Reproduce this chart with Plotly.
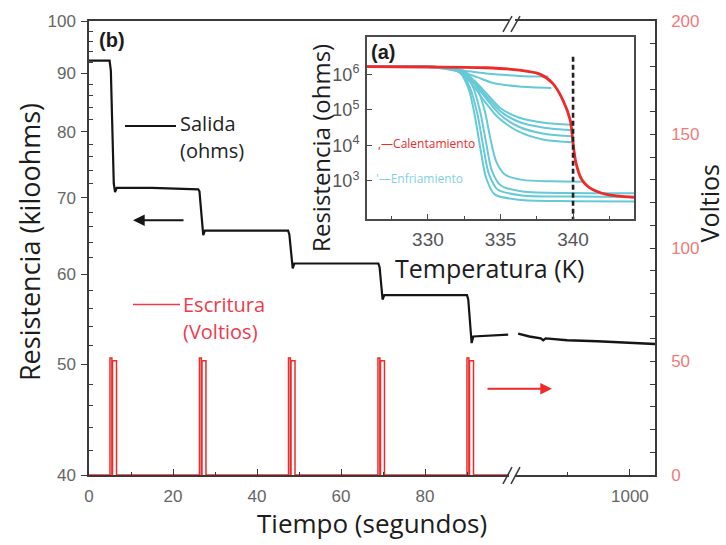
import plotly.graph_objects as go

# ---------------- data ----------------
# main panel (b): resistance in kiloohms vs time (s)
time_a = [0, 4.9, 5.2, 5.6, 5.9, 6.2, 6.6, 15, 26.0, 26.3, 26.8, 27.2, 27.6, 40, 47.4, 47.7, 48.1, 48.5, 48.9,
          60, 68.9, 69.2, 69.6, 69.9, 70.3, 80, 90.0, 90.3, 90.7, 91.1, 91.5, 95, 99.8]
res_a = [92.3, 92.3, 90.5, 78.0, 72.0, 70.8, 71.4, 71.4, 71.2, 70.9, 68.0, 64.9, 65.5, 65.5, 65.5, 65.0, 63.0, 60.7, 61.3,
         61.3, 61.3, 60.8, 58.8, 57.0, 57.5, 57.5, 57.5, 57.0, 54.5, 52.2, 52.9, 53.0, 53.1]
time_b = [822, 840, 858, 862, 866, 900, 948, 1000, 1040]
res_b = [53.2, 52.9, 52.7, 52.5, 52.7, 52.5, 52.4, 52.2, 52.1]

# write pulses (volts)
volt_t = [0,
          5.0, 5.0, 5.45, 5.45, 5.6, 5.6, 6.55, 6.55,
          26.3, 26.3, 26.75, 26.75, 26.9, 26.9, 27.85, 27.85,
          47.5, 47.5, 47.95, 47.95, 48.1, 48.1, 49.05, 49.05,
          68.8, 68.8, 69.25, 69.25, 69.4, 69.4, 70.35, 70.35,
          90.0, 90.0, 90.45, 90.45, 90.6, 90.6, 91.55, 91.55,
          100]
volt_v = [0,
          0, 51.5, 51.5, 0, 0, 50.3, 50.3, 0,
          0, 51.5, 51.5, 0, 0, 50.3, 50.3, 0,
          0, 51.5, 51.5, 0, 0, 50.3, 50.3, 0,
          0, 51.5, 51.5, 0, 0, 50.3, 50.3, 0,
          0, 51.5, 51.5, 0, 0, 50.3, 50.3, 0,
          0]

# inset (a): log10(resistance / ohm) vs temperature (K)
heat_T = [325.8, 330, 334, 336.3, 337.7, 338.6, 339.3, 339.8, 340.0, 340.2, 340.6, 341.1, 342.3, 344.2]
heat_logR = [6.22, 6.21, 6.19, 6.12, 6.01, 5.75, 5.28, 4.72, 4.07, 3.51, 3.04, 2.82, 2.62, 2.54]

cool_curves = [
    ([325.8, 330.0, 332.2, 334.0, 336.3, 338.3],
     [6.22, 6.21, 6.12, 6.03, 5.96, 5.94]),
    ([325.8, 330.0, 332.2, 333.3, 334.5, 336.3, 338.5],
     [6.22, 6.21, 6.08, 5.94, 5.76, 5.66, 5.62]),
    ([325.8, 331.0, 332.3, 333.2, 334.0, 335.0, 336.3, 338.0, 339.85],
     [6.22, 6.20, 6.10, 5.82, 5.48, 5.05, 4.78, 4.64, 4.58]),
    ([325.8, 331.0, 332.3, 333.2, 334.0, 335.0, 336.3, 338.0, 339.9],
     [6.22, 6.20, 6.08, 5.78, 5.40, 4.96, 4.66, 4.50, 4.43]),
    ([325.8, 331.0, 332.3, 333.2, 334.0, 335.0, 336.3, 338.0, 339.95],
     [6.22, 6.20, 6.06, 5.74, 5.33, 4.86, 4.52, 4.33, 4.26]),
    ([325.8, 331.0, 332.2, 333.0, 333.8, 334.8, 336.3, 338.0, 340.0],
     [6.22, 6.20, 6.05, 5.75, 5.30, 4.80, 4.38, 4.16, 4.09]),
    ([325.8, 331.0, 332.5, 333.3, 333.9, 334.3, 334.7, 335.3, 336.5, 338.5, 340.7],
     [6.22, 6.20, 6.10, 5.70, 5.00, 4.20, 3.55, 3.18, 3.03, 2.99, 2.98]),
    ([325.8, 331.0, 332.4, 333.1, 333.6, 334.0, 334.4, 335.0, 336.5, 340.0, 344.2],
     [6.22, 6.20, 6.08, 5.65, 4.95, 4.10, 3.30, 2.88, 2.70, 2.66, 2.65]),
    ([325.8, 331.0, 332.3, 332.9, 333.4, 333.8, 334.2, 334.8, 336.5, 340.0, 344.2],
     [6.22, 6.20, 6.06, 5.62, 4.90, 4.00, 3.20, 2.76, 2.59, 2.56, 2.55]),
    ([325.8, 331.0, 332.2, 332.8, 333.2, 333.6, 334.0, 334.6, 336.5, 340.0, 344.2],
     [6.22, 6.20, 6.05, 5.60, 4.90, 3.95, 3.10, 2.62, 2.46, 2.43, 2.42]),
]
marker_T = [340, 340]
marker_logR = [6.5, 1.92]

left_ticks = [40, 50, 60, 70, 80, 90, 100]
left_minor = [42, 44, 46, 48, 52, 54, 56, 58, 62, 64, 66, 68, 72, 74, 76, 78, 82, 84, 86, 88, 92, 94, 96, 98]
right_ticks = [0, 50, 100, 150, 200]
time_ticks_a = [0, 20, 40, 60, 80]
time_minor_a = [10, 30, 50, 70, 90]
time_ticks_b = [1000]
time_minor_b = [900]
temp_ticks = [330, 335, 340]
temp_minor = [327.5, 332.5, 337.5, 342.5]
inset_exp = [3, 4, 5, 6]

# ---------------- layout helpers ----------------
W, H = 726, 545
ML, MR, MT, MB = 89, 71, 17, 70
PW, PH = W - ML - MR, H - MT - MB


def fx(p):
    return (p - ML) / PW


def fy(p):
    return (H - MB - p) / PH


BLACK = "#151515"
RED = "#ee2a2a"
CYAN = "#66c9d8"
AX = "#3a3a3a"
NUMF = "Liberation Sans, Arial"
TITLEF = "Open Sans, Noto Sans, sans-serif"

fig = go.Figure()

# main traces
fig.add_trace(go.Scatter(x=volt_t, y=volt_v, xaxis="x", yaxis="y2", mode="lines",
                         line=dict(color=RED, width=1.5), hoverinfo="skip"))
fig.add_trace(go.Scatter(x=time_a, y=res_a, xaxis="x", yaxis="y", mode="lines",
                         line=dict(color=BLACK, width=2.2), hoverinfo="skip"))
fig.add_trace(go.Scatter(x=time_b, y=res_b, xaxis="x2", yaxis="y", mode="lines",
                         line=dict(color=BLACK, width=2.4), hoverinfo="skip"))

# inset traces
for cT, cL in cool_curves:
    fig.add_trace(go.Scatter(x=cT, y=[10 ** v for v in cL], xaxis="x3", yaxis="y3", mode="lines",
                             line=dict(color=CYAN, width=2, shape="spline", smoothing=0.8),
                             hoverinfo="skip"))
fig.add_trace(go.Scatter(x=heat_T, y=[10 ** v for v in heat_logR], xaxis="x3", yaxis="y3", mode="lines",
                         line=dict(color=RED, width=2.8, shape="spline", smoothing=0.8), hoverinfo="skip"))
fig.add_trace(go.Scatter(x=marker_T, y=[10 ** v for v in marker_logR], xaxis="x3", yaxis="y3", mode="lines",
                         line=dict(color="#222", width=2.6, dash="5px,3px"), hoverinfo="skip"))

seg1_end = fx(509)
seg2_start = fx(515)

fig.update_layout(
    width=W, height=H,
    margin=dict(l=ML, r=MR, t=MT, b=MB, pad=0),
    plot_bgcolor="white", paper_bgcolor="white",
    showlegend=False,
    xaxis=dict(domain=[0, seg1_end], range=[0, 100], anchor="y",
               showline=True, linecolor=AX, linewidth=1.5, mirror=True,
               tickvals=time_ticks_a, ticks="inside", ticklen=6, tickcolor=AX, tickwidth=1.2,
               minor=dict(tickvals=time_minor_a, ticks="inside", ticklen=3, tickcolor=AX),
               tickfont=dict(family=NUMF, size=17, color="#666"),
               ticklabelstandoff=5, showgrid=False, zeroline=False),
    xaxis2=dict(domain=[seg2_start, 1], range=[817, 1040], anchor="y",
                showline=True, linecolor=AX, linewidth=1.5, mirror=True,
                tickvals=time_ticks_b, ticks="inside", ticklen=6, tickcolor=AX, tickwidth=1.2,
                minor=dict(tickvals=time_minor_b, ticks="inside", ticklen=3, tickcolor=AX),
                tickfont=dict(family=NUMF, size=17, color="#666"),
                ticklabelstandoff=5, showgrid=False, zeroline=False),
    yaxis=dict(type="log", range=[1.60206, 2], domain=[0, 1], anchor="x", side="left",
               showline=True, linecolor=AX, linewidth=1.5,
               tickvals=left_ticks, ticktext=[str(v) for v in left_ticks],
               ticks="outside", ticklen=6, tickcolor=AX, tickwidth=1.2,
               minor=dict(tickvals=left_minor, ticks="inside", ticklen=4, tickcolor=AX),
               tickfont=dict(family=NUMF, size=17, color="#666"),
               ticklabelstandoff=2, showgrid=False, zeroline=False),
    yaxis2=dict(range=[0, 200], overlaying="y", anchor="x2", side="right",
                showline=True, linecolor=AX, linewidth=1.5,
                tickvals=right_ticks, ticks="inside", ticklen=5, tickcolor=AX, tickwidth=1.2,
                minor=dict(dtick=10, ticks="inside", ticklen=5, tickcolor=AX),
                tickfont=dict(family=NUMF, size=17, color="#f07a7a"),
                ticklabelstandoff=11, showgrid=False, zeroline=False),
    xaxis3=dict(domain=[fx(367), fx(634)], range=[325.8, 344.2], anchor="y3",
                showline=True, linecolor="#4a4a4a", linewidth=2, mirror=True,
                tickvals=temp_ticks, ticks="inside", ticklen=5, tickcolor="#4a4a4a", tickwidth=1.2,
                minor=dict(tickvals=temp_minor, ticks="inside", ticklen=3, tickcolor="#4a4a4a"),
                tickfont=dict(family=NUMF, size=19, color="#555"),
                ticklabelstandoff=2, showgrid=False, zeroline=False),
    yaxis3=dict(type="log", domain=[fy(217), fy(33)], range=[1.92, 7.06], anchor="x3",
                showline=True, linecolor="#4a4a4a", linewidth=2, mirror=True,
                tickvals=[10 ** e for e in inset_exp],
                ticktext=["10<sup>%d</sup>" % e for e in inset_exp],
                ticks="inside", ticklen=5, tickcolor="#4a4a4a", tickwidth=1.2,
                tickfont=dict(family=NUMF, size=18, color="#555"),
                ticklabelstandoff=2, showgrid=False, zeroline=False),
)

annotations = []


def txt(x, y, s, size, color, angle=0, bold=False, xanchor="center", family=TITLEF):
    annotations.append(dict(xref="paper", yref="paper", x=fx(x), y=fy(y), text=("<b>%s</b>" % s) if bold else s,
                            showarrow=False, textangle=angle, xanchor=xanchor, yanchor="middle",
                            font=dict(family=family, size=size, color=color)))


txt(372, 523, "Tiempo (segundos)", 26, "#1c1c1c")
txt(29, 240, "Resistencia (kiloohms)", 27, "#1c1c1c", angle=-90)
txt(709, 201, "Voltios", 25, "#1c1c1c", angle=-90)
txt(489, 266, "Temperatura (K)", 25, "#1c1c1c")
txt(321, 145, "Resistencia (ohms)", 24, "#1c1c1c", angle=-90)
txt(97, 36, "(b)", 20, "#1c1c1c", bold=True, xanchor="left", family=NUMF)
txt(369, 48, "(a)", 20, "#1c1c1c", bold=True, xanchor="left", family=NUMF)
txt(178, 120, "Salida", 20, "#222", xanchor="left")
txt(178, 148, "(ohms)", 20, "#222", xanchor="left")
txt(181, 303, "Escritura", 20, "#f03a4a", xanchor="left")
txt(181, 330, "(Voltios)", 20, "#f03a4a", xanchor="left")
txt(376, 141, ",—Calentamiento", 12, "#ee2a2a", xanchor="left")
txt(374, 176, "'—Enfriamiento", 12, "#7fd3e0", xanchor="left")

# arrows
annotations.append(dict(xref="paper", yref="paper", x=fx(133), y=fy(218), ax=52, ay=0, text="",
                        showarrow=True, arrowhead=2, arrowsize=1.3, arrowwidth=1.8, arrowcolor=BLACK))
annotations.append(dict(xref="paper", yref="paper", x=fx(552), y=fy(388), ax=-66, ay=0, text="",
                        showarrow=True, arrowhead=2, arrowsize=1.3, arrowwidth=1.8, arrowcolor=RED))
fig.update_layout(annotations=annotations)

shapes = []


def seg(x0, y0, x1, y1, color, width):
    shapes.append(dict(type="line", xref="paper", yref="paper", x0=fx(x0), y0=fy(y0), x1=fx(x1), y1=fy(y1),
                       line=dict(color=color, width=width)))


seg(125, 123, 176, 123, BLACK, 2)
seg(133, 303, 180, 303, "#f03a4a", 1.6)
# axis break marks
seg(503, 28, 512, 12, AX, 1.5)
seg(511, 28, 520, 12, AX, 1.5)
seg(503, 484, 512, 467, AX, 1.5)
seg(511, 484, 520, 467, AX, 1.5)
fig.update_layout(shapes=shapes)

fig.write_html("out.html")
